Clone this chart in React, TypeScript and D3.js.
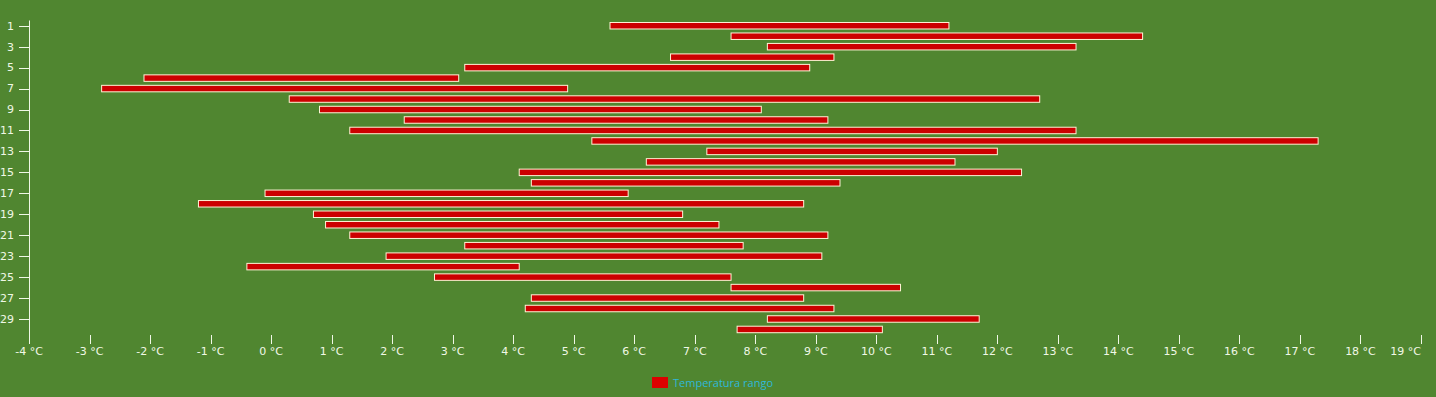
import React, { useEffect, useRef } from "react";
import * as d3 from "d3";

const days: number[] = d3.range(1, 31);
const minTemps: number[] = [5.6, 7.6, 8.2, 6.6, 3.2, -2.1, -2.8, 0.3, 0.8, 2.2, 1.3, 5.3, 7.2, 6.2, 4.1, 4.3, -0.1, -1.2, 0.7, 0.9, 1.3, 3.2, 1.9, -0.4, 2.7, 7.6, 4.3, 4.2, 8.2, 7.7];
const maxTemps: number[] = [11.2, 14.4, 13.3, 9.3, 8.9, 3.1, 4.9, 12.7, 8.1, 9.2, 13.3, 17.3, 12.0, 11.3, 12.4, 9.4, 5.9, 8.8, 6.8, 7.4, 9.2, 7.8, 9.1, 4.1, 7.6, 10.4, 8.8, 9.3, 11.7, 10.1];
const xTicks: number[] = d3.range(-4, 20);
const yTickLabels: number[] = d3.range(1, 30, 2);
const seriesName = "Temperatura rango";

const W = 1436;
const H = 397;

export default function App() {
  const ref = useRef<SVGSVGElement | null>(null);

  useEffect(() => {
    const svg = d3.select(ref.current);
    svg.selectAll("*").remove();

    const x = d3.scaleLinear().domain([-4, 19]).range([29, 1421]);
    const y = d3.scaleBand<number>().domain(days).range([20.5, 334.7]).paddingInner(0.38).paddingOuter(0.19);

    svg.append("rect").attr("width", W).attr("height", H).attr("fill", "#508630");

    const textColor = "#f0f8e6";
    const font = "'DejaVu Sans', Verdana, sans-serif";

    // y axis line
    svg.append("line").attr("x1", 29.5).attr("x2", 29.5).attr("y1", 20.5).attr("y2", 344)
      .attr("stroke", textColor).attr("stroke-width", 1);

    // y ticks
    const yg = svg.append("g");
    yTickLabels.forEach((d) => {
      const cy = (y(d) as number) + y.bandwidth() / 2;
      yg.append("line").attr("x1", 19).attr("x2", 29).attr("y1", Math.round(cy) + 0.5).attr("y2", Math.round(cy) + 0.5)
        .attr("stroke", textColor);
      yg.append("text").attr("x", 14).attr("y", cy).attr("dy", "0.35em").attr("text-anchor", "end")
        .attr("fill", textColor).attr("font-family", font).attr("font-size", 11).text(String(d));
    });

    // x ticks
    const xg = svg.append("g");
    const lastTick = xTicks[xTicks.length - 1];
    xTicks.forEach((t) => {
      const px = Math.round(x(t)) + 0.5;
      if (t !== -4) {
        xg.append("line").attr("x1", px).attr("x2", px).attr("y1", 335).attr("y2", 344).attr("stroke", textColor);
      }
      xg.append("text").attr("x", t === lastTick ? x(t) : x(t)).attr("y", 355)
        .attr("text-anchor", t === lastTick ? "end" : "middle")
        .attr("fill", textColor).attr("font-family", font).attr("font-size", 11).text(`${t} °C`);
    });

    // bars
    svg.append("g").selectAll("rect").data(days).join("rect")
      .attr("x", (_d, i) => x(minTemps[i]))
      .attr("width", (_d, i) => x(maxTemps[i]) - x(minTemps[i]))
      .attr("y", (d) => y(d) as number)
      .attr("height", y.bandwidth())
      .attr("fill", "#cc0000")
      .attr("stroke", "#fff3d6")
      .attr("stroke-width", 1);

    // legend
    svg.append("rect").attr("x", 652).attr("y", 377).attr("width", 16).attr("height", 11).attr("fill", "#dd0000");
    svg.append("text").attr("x", 673).attr("y", 387).attr("fill", "#2fb8d8")
      .attr("font-family", "'Open Sans', sans-serif").attr("font-size", 11).text(seriesName);
  }, []);

  return (
    <svg ref={ref} width={W} height={H} style={{ position: "absolute", left: 0, top: 0, display: "block" }} />
  );
}
